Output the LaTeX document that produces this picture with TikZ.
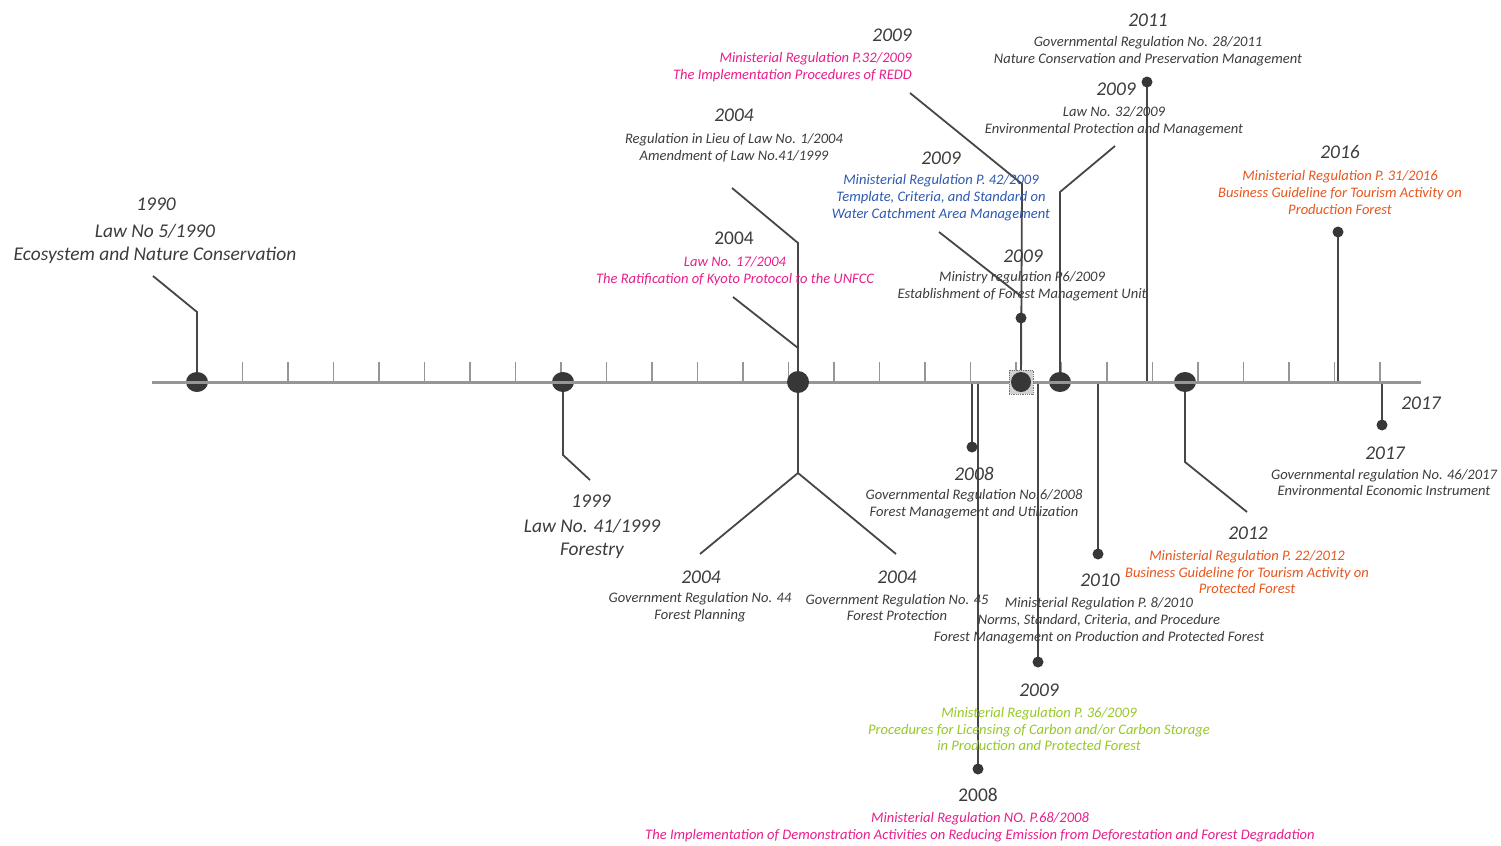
\documentclass[tikz,border=0pt]{standalone}
\usepackage{fontspec}
\setmainfont{Carlito}
\definecolor{axisc}{RGB}{150,150,150}
\definecolor{stemc}{RGB}{70,70,70}
\definecolor{dotc}{RGB}{55,55,55}
\definecolor{txtc}{RGB}{60,60,60}
\definecolor{pinkc}{RGB}{232,30,140}
\definecolor{bluec}{RGB}{46,90,175}
\definecolor{orangec}{RGB}{230,86,30}
\definecolor{greenc}{RGB}{150,200,40}
\pgfdeclarelayer{links}
\pgfdeclarelayer{axislayer}
\pgfdeclarelayer{topdots}
\pgfsetlayers{links,main,axislayer,topdots}
\tikzset{
  axisline/.style={draw=axisc, line width=3bp},
  tickmark/.style={draw=axisc, line width=1.6bp},
  stem/.style={draw=stemc, line width=1.8bp},
  ringdot/.style={ellipse, fill=dotc, minimum width=22bp, minimum height=20bp, inner sep=0pt},
  soliddot/.style={circle, fill=dotc, minimum size=22bp, inner sep=0pt},
  smalldot/.style={circle, fill=dotc, minimum size=11bp, inner sep=0pt},
  selbox/.style={rectangle, fill=black!18, draw=black!55, densely dotted, line width=0.8bp, minimum size=24bp, inner sep=0pt},
  yr/.style={font=\fontsize{19.5}{22}\selectfont\itshape, text=txtc, inner sep=0pt},
  yrup/.style={font=\fontsize{19.5}{22}\selectfont, text=txtc, inner sep=0pt},
  big/.style={font=\fontsize{19.5}{23}\selectfont\itshape, align=center, text=txtc, inner sep=0pt},
  lbl/.style={font=\fontsize{14.6}{17}\selectfont\itshape, align=center, text=txtc, inner sep=0pt},
}
\usetikzlibrary{shapes.geometric}
\begin{document}
\begin{tikzpicture}[x=1bp,y=-1bp]
\useasboundingbox (0,0) rectangle (1501,845);

% ---- points on the axis and bends of the connectors ----
\coordinate (axL) at (152,382);
\coordinate (axR) at (1421,382);
\coordinate (a2008a) at (972,382);
\coordinate (a2008b) at (978,382);
\coordinate (a2009c) at (1038,382);
\coordinate (a2010) at (1098,382);
\coordinate (a2011) at (1147,382);
\coordinate (a2016) at (1338,382);
\coordinate (a2017) at (1382,382);

\coordinate (k1990) at (197,312);   \coordinate (e1990) at (153,276);
\coordinate (k1999) at (563,455);   \coordinate (e1999) at (590,480);
\coordinate (k2004u) at (798,243);  \coordinate (e2004u) at (732,188);
\coordinate (j2004k) at (798,348);  \coordinate (e2004k) at (733,297);
\coordinate (k2004d) at (798,473);
\coordinate (e2004l) at (700,554);  \coordinate (e2004r) at (896,554);
\coordinate (k2009r) at (1022,184); \coordinate (e2009r) at (910,93);
\coordinate (j2009w) at (1022,297); \coordinate (e2009w) at (939,232);
\coordinate (k2009l) at (1060,192); \coordinate (e2009l) at (1115,146);
\coordinate (k2012) at (1185,462);  \coordinate (e2012) at (1247,512);

% ---- dots on the axis ----
\node[ringdot] (d1990) at (197,382) {};
\node[ringdot] (d1999) at (563,382) {};
\node[ringdot] (d2009b) at (1060,382) {};
\node[ringdot] (d2012) at (1185,382) {};
\begin{pgfonlayer}{topdots}
  \node[soliddot] (d2004) at (798,382) {};
  \node[selbox] (sq2009) at (1021,382) {};
  \node[soliddot, minimum size=20bp] (d2009a) at (1021,382) {};
\end{pgfonlayer}

% ---- end dots ----
\node[smalldot] (s2008a) at (972,447) {};
\node[smalldot] (s2008b) at (978,769) {};
\node[smalldot] (s2009c) at (1038,662) {};
\node[smalldot] (s2010) at (1098,554) {};
\node[smalldot] (s2011) at (1147,82) {};
\node[smalldot] (s2016) at (1338,232) {};
\node[smalldot] (s2017) at (1382,425) {};
\node[smalldot] (s2009p) at (1021,318) {};

% ---- axis, ticks and connectors ----
\begin{pgfonlayer}{axislayer}
  \draw[axisline] (axL) -- (axR);
\end{pgfonlayer}
\begin{pgfonlayer}{links}
  \foreach \k in {0,...,26}
    \draw[tickmark] ({197+45.5*\k},362) -- ({197+45.5*\k},382);
  \draw[stem] (d1990.center) -- (k1990) -- (e1990);
  \draw[stem] (d1999.center) -- (k1999) -- (e1999);
  \draw[stem] (d2004.center) -- (k2004u) -- (e2004u);
  \draw[stem] (j2004k) -- (e2004k);
  \draw[stem] (d2004.center) -- (k2004d) -- (e2004l);
  \draw[stem] (k2004d) -- (e2004r);
  \draw[stem] (d2009a.center) -- (k2009r) -- (e2009r);
  \draw[stem] (j2009w) -- (e2009w);
  \draw[stem] (d2009a.center) -- (s2009p.center);
  \draw[stem] (d2009b.center) -- (k2009l) -- (e2009l);
  \draw[stem] (a2011) -- (s2011.center);
  \draw[stem] (a2016) -- (s2016.center);
  \draw[stem] (a2017) -- (s2017.center);
  \draw[stem] (d2012.center) -- (k2012) -- (e2012);
  \draw[stem] (a2010) -- (s2010.center);
  \draw[stem] (a2009c) -- (s2009c.center);
  \draw[stem] (a2008a) -- (s2008a.center);
  \draw[stem] (a2008b) -- (s2008b.center);
\end{pgfonlayer}

% ---- labels ----
\node[yr] (y1990) at (156,204) {1990};
\node[big] (t1990) at (155,243.5) {Law No 5/1990\\Ecosystem and Nature Conservation};

\node[yr] (y1999) at (591,501) {1999};
\node[big] (t1999) at (592,538.5) {Law No. 41/1999\\Forestry};

\node[yr] (y2004a) at (734,115) {2004};
\node[lbl] (t2004a) at (734,147.5) {Regulation in Lieu of Law No. 1/2004\\Amendment of Law No.41/1999};

\node[yrup] (y2004b) at (734,238) {2004};
\node[lbl, text=pinkc] (t2004b) at (735,271.5) {Law No. 17/2004\\The Ratification of Kyoto Protocol to the UNFCC};

\node[yr] (y2004c) at (701,577) {2004};
\node[lbl] (t2004c) at (700,607.5) {Government Regulation No. 44\\Forest Planning};

\node[yr] (y2004d) at (897,577) {2004};
\node[lbl] (t2004d) at (897,607.5) {Government Regulation No. 45\\Forest Protection};

\node[yr, anchor=east] (y2009r) at (912,35) {2009};
\node[lbl, text=pinkc, align=right, anchor=east] (t2009r) at (912,67) {Ministerial Regulation P.32/2009\\The Implementation Procedures of REDD};

\node[yr] (y2009w) at (941,158) {2009};
\node[lbl, text=bluec] (t2009w) at (941,197.5) {Ministerial Regulation P. 42/2009\\Template, Criteria, and Standard on\\Water Catchment Area Management};

\node[yr] (y2009p) at (1023,256) {2009};
\node[lbl] (t2009p) at (1022,286) {Ministry regulation P6/2009\\Establishment of Forest Management Unit};

\node[yr] (y2009l) at (1116,89) {2009};
\node[lbl] (t2009l) at (1114,121.5) {Law No. 32/2009\\Environmental Protection and Management};

\node[yr] (y2011) at (1148,20) {2011};
\node[lbl] (t2011) at (1148,51.5) {Governmental Regulation No. 28/2011\\Nature Conservation and Preservation Management};

\node[yr] (y2016) at (1340,152) {2016};
\node[lbl, text=orangec] (t2016) at (1340,192.5) {Ministerial Regulation P. 31/2016\\Business Guideline for Tourism Activity on\\Production Forest};

\node[yr] (yend) at (1421,403) {2017};

\node[yr] (y2017) at (1385,453) {2017};
\node[lbl] (t2017) at (1384,482.5) {Governmental regulation No. 46/2017\\Environmental Economic Instrument};

\node[yr] (y2012) at (1248,533) {2012};
\node[lbl, text=orangec] (t2012) at (1247,572) {Ministerial Regulation P. 22/2012\\Business Guideline for Tourism Activity on\\Protected Forest};

\node[yr] (y2008a) at (974,474) {2008};
\node[lbl] (t2008a) at (974,504) {Governmental Regulation No.6/2008\\Forest Management and Utilization};

\node[yr] (y2010) at (1100,580) {2010};
\node[lbl] (t2010) at (1099,621) {Ministerial Regulation P. 8/2010\\Norms, Standard, Criteria, and Procedure\\Forest Management on Production and Protected Forest};

\node[yr] (y2009c) at (1039,690) {2009};
\node[lbl, text=greenc] (t2009c) at (1039,729) {Ministerial Regulation P. 36/2009\\Procedures for Licensing of Carbon and/or Carbon Storage\\in Production and Protected Forest};

\node[yrup] (y2008b) at (978,795) {2008};
\node[lbl, text=pinkc] (t2008b) at (980,827) {Ministerial Regulation NO. P.68/2008\\The Implementation of Demonstration Activities on Reducing Emission from Deforestation and Forest Degradation};
\end{tikzpicture}
\end{document}
